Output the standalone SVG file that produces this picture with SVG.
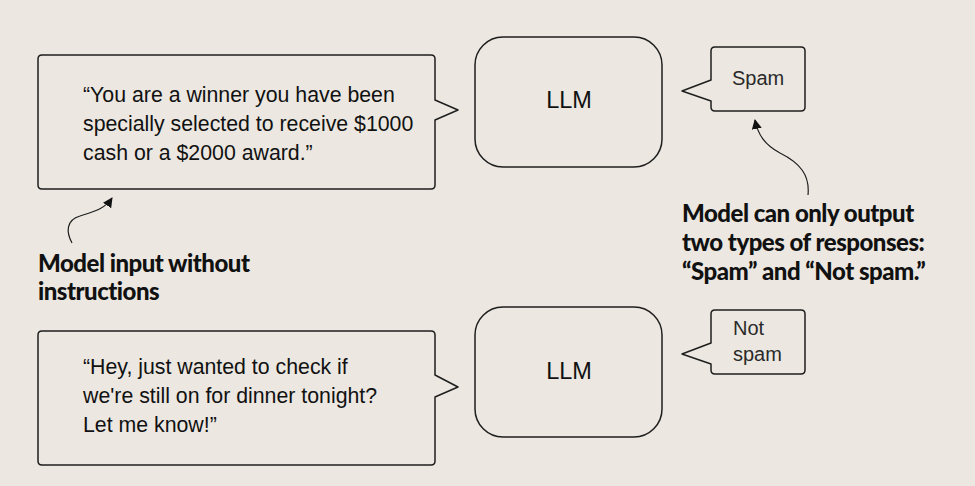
<svg xmlns="http://www.w3.org/2000/svg" width="975" height="486" viewBox="0 0 975 486">
<style>
.bg{fill:#ece8e1}
.box{fill:#ece8e1;stroke:#1e1e1e;stroke-width:1.5;stroke-linejoin:round}
.t{font-family:"Liberation Sans",Arial,sans-serif;font-size:21.3px;fill:#111}
.llm{font-family:"Liberation Sans",Arial,sans-serif;font-size:23.5px;fill:#111;text-anchor:middle}
.out{font-family:"Liberation Sans",Arial,sans-serif;font-size:20px;fill:#2a2a2a}
.lab{font-family:Lato,"Open Sans",sans-serif;font-weight:900;font-size:24px;letter-spacing:-0.5px;fill:#111}
.con{fill:none;stroke:#1e1e1e;stroke-width:1.2}
</style>
<defs>
<marker id="ah" viewBox="0 0 10 10" refX="9" refY="5" markerWidth="10" markerHeight="10" markerUnits="userSpaceOnUse" orient="auto">
<path d="M0,0 L10,5 L0,10 z" fill="#111"/>
</marker>
</defs>
<rect class="bg" width="975" height="486"/>
<g id="input1">
<path class="box" d="M42,55 H431 Q435,55 435,59 V100 L458,110 L435,120 V185 Q435,189 431,189 H42 Q38,189 38,185 V59 Q38,55 42,55 Z"/>
<text class="t" x="83" y="102">“You are a winner you have been</text>
<text class="t" x="83" y="131">specially selected to receive $1000</text>
<text class="t" x="83" y="160">cash or a $2000 award.”</text>
</g>
<g id="llm1">
<rect class="box" x="475" y="37" width="187" height="130" rx="28" ry="28"/>
<text class="llm" x="569" y="108">LLM</text>
</g>
<g id="out1">
<path class="box" d="M715,47 H801 Q805,47 805,51 V107 Q805,111 801,111 H715 Q711,111 711,107 V101 L682,91 L711,80 V51 Q711,47 715,47 Z"/>
<text class="out" x="732" y="85">Spam</text>
</g>
<g id="input2">
<path class="box" d="M42,331 H431 Q435,331 435,335 V375 L458,387 L435,397 V461 Q435,465 431,465 H42 Q38,465 38,461 V335 Q38,331 42,331 Z"/>
<text class="t" x="83" y="374">“Hey, just wanted to check if</text>
<text class="t" x="83" y="403">we're still on for dinner tonight?</text>
<text class="t" x="83" y="432">Let me know!”</text>
</g>
<g id="llm2">
<rect class="box" x="475" y="307" width="187" height="130" rx="28" ry="28"/>
<text class="llm" x="569" y="379">LLM</text>
</g>
<g id="out2">
<path class="box" d="M715,310 H801 Q805,310 805,314 V370 Q805,374 801,374 H715 Q711,374 711,370 V364 L682,354 L711,343 V314 Q711,310 715,310 Z"/>
<text class="out" x="733" y="335">Not</text>
<text class="out" x="733" y="361">spam</text>
</g>
<g id="label1">
<text class="lab" x="38" y="272">Model input without</text>
<text class="lab" x="38" y="300">instructions</text>
</g>
<g id="label2">
<text class="lab" x="682" y="222">Model can only output</text>
<text class="lab" x="682" y="251">two types of responses:</text>
<text class="lab" x="682" y="280">“Spam” and “Not spam.”</text>
</g>
<g id="connectors">
<path class="con" d="M72,243 C66,232 66,220 80,216 C92,212 104,210 112,198" marker-end="url(#ah)"/>
<path class="con" d="M808,195 C810,175 800,163 780,153 C765,145 758,135 755,120" marker-end="url(#ah)"/>
</g>
</svg>
